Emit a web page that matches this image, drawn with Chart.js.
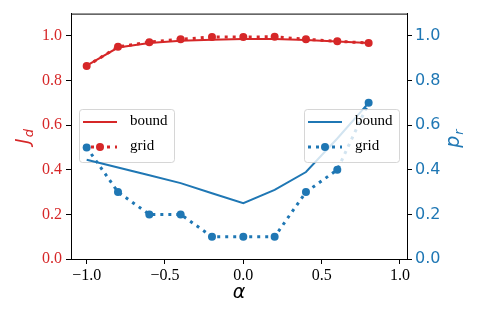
<!DOCTYPE html>
<html>
<head>
<meta charset="utf-8">
<script src="https://cdn.jsdelivr.net/npm/chart.js@4.4.1/dist/chart.umd.min.js"></script>
<style>
  html, body { margin: 0; padding: 0; background: #fff; }
  #wrap { width: 480px; height: 320px; }
</style>
</head>
<body>
<div id="wrap"><canvas id="chart" width="480" height="320"></canvas></div>
<script>
// values
const alpha = [-1.0, -0.8, -0.6, -0.4, -0.2, 0.0, 0.2, 0.4, 0.6, 0.8];
const jdBound = [0.867, 0.948, 0.968, 0.978, 0.983, 0.986, 0.986, 0.982, 0.975, 0.968];
const jdGrid = [0.865, 0.951, 0.972, 0.985, 0.995, 0.995, 0.996, 0.985, 0.976, 0.968];
const prBound = [0.445, 0.41, 0.375, 0.34, 0.295, 0.25, 0.31, 0.39, 0.54, 0.70];
const prGrid = [0.5, 0.3, 0.2, 0.2, 0.1, 0.1, 0.1, 0.3, 0.4, 0.7];

const xTicks = [-1.0, -0.5, 0.0, 0.5, 1.0];
const yTicks = [0.0, 0.2, 0.4, 0.6, 0.8, 1.0];

const RED = '#d62728';
const BLUE = '#1f77b4';
const SERIF = '"Liberation Serif", "Times New Roman", serif';
const SANS = '"DejaVu Sans", sans-serif';

const pts = (ys) => alpha.map((x, i) => ({ x: x, y: ys[i] }));

function lineStyle(color, dotted) {
  return dotted ? {
    borderColor: color, backgroundColor: color, borderWidth: 3,
    borderDash: [3, 5], borderCapStyle: 'butt',
    pointRadius: 4, pointBackgroundColor: color, pointBorderWidth: 0
  } : {
    borderColor: color, backgroundColor: color, borderWidth: 2,
    pointRadius: 0
  };
}

function drawLegend(ctx, x0, color) {
  const y0 = 109, w = 95, h = 53;
  ctx.save();
  ctx.beginPath();
  ctx.roundRect(x0 + 0.5, y0 + 0.5, w, h, 3);
  ctx.fillStyle = 'rgba(255,255,255,0.8)';
  ctx.fill();
  ctx.strokeStyle = 'rgba(204,204,204,0.8)';
  ctx.lineWidth = 1;
  ctx.stroke();

  // bound row
  ctx.strokeStyle = color;
  ctx.lineWidth = 2;
  ctx.beginPath();
  ctx.moveTo(x0 + 4, 122);
  ctx.lineTo(x0 + 38, 122);
  ctx.stroke();

  // grid row
  ctx.lineWidth = 3;
  ctx.setLineDash([3, 5]);
  ctx.beginPath();
  ctx.moveTo(x0 + 4, 147);
  ctx.lineTo(x0 + 38, 147);
  ctx.stroke();
  ctx.setLineDash([]);
  ctx.fillStyle = color;
  ctx.beginPath();
  ctx.arc(x0 + 21, 147, 4, 0, Math.PI * 2);
  ctx.fill();

  ctx.fillStyle = '#000';
  ctx.font = '15px ' + SERIF;
  ctx.textBaseline = 'middle';
  ctx.textAlign = 'left';
  ctx.fillText('bound', x0 + 51, 121);
  ctx.fillText('grid', x0 + 51, 146);
  ctx.restore();
}

// rotated math-style label: main letter + subscript
function drawSubLabel(ctx, cx, cy, main, sub, color) {
  ctx.save();
  ctx.translate(cx, cy);
  ctx.rotate(-Math.PI / 2);
  ctx.fillStyle = color;
  ctx.textBaseline = 'alphabetic';
  ctx.textAlign = 'left';
  ctx.font = 'italic 19px ' + SANS;
  const w1 = ctx.measureText(main).width;
  ctx.font = 'italic 13px ' + SANS;
  const w2 = ctx.measureText(sub).width;
  const start = -(w1 + w2) / 2;
  ctx.font = 'italic 19px ' + SANS;
  ctx.fillText(main, start, 0);
  ctx.font = 'italic 13px ' + SANS;
  ctx.fillText(sub, start + w1 + 1, 3.5);
  ctx.restore();
}

const overlay = {
  id: 'overlay',
  afterDatasetDraw(chart, args) {
    // left legend sits above the red lines but under the blue ones
    if (args.index === 1) drawLegend(chart.ctx, 79, RED);
  },
  afterDatasetsDraw(chart) {
    const ctx = chart.ctx;
    drawLegend(ctx, 304, BLUE);
    const a = chart.chartArea;
    ctx.save();
    ctx.strokeStyle = '#000';
    ctx.lineWidth = 1;
    ctx.beginPath();
    ctx.moveTo(a.left, a.top + 0.5);
    ctx.lineTo(a.right, a.top + 0.5);
    ctx.stroke();
    ctx.restore();
  },
  afterDraw(chart) {
    const ctx = chart.ctx;
    drawSubLabel(ctx, 29, 137, 'J', 'd', RED);
    drawSubLabel(ctx, 459, 139, 'p', 'r', BLUE);
    ctx.save();
    ctx.fillStyle = '#000';
    ctx.font = 'italic 19px ' + SANS;
    ctx.textAlign = 'center';
    ctx.textBaseline = 'alphabetic';
    ctx.fillText('α', 239, 298);
    ctx.restore();
  }
};

const tickGrid = {
  display: true, drawOnChartArea: false, drawTicks: true,
  tickLength: 5, tickColor: '#000', tickWidth: 1
};

new Chart(document.getElementById('chart'), {
  type: 'line',
  data: {
    datasets: [
      Object.assign({ label: 'bound', data: pts(jdBound), yAxisID: 'y', order: 4 }, lineStyle(RED, false)),
      Object.assign({ label: 'grid', data: pts(jdGrid), yAxisID: 'y', order: 3 }, lineStyle(RED, true)),
      Object.assign({ label: 'bound', data: pts(prBound), yAxisID: 'y2', order: 2 }, lineStyle(BLUE, false)),
      Object.assign({ label: 'grid', data: pts(prGrid), yAxisID: 'y2', order: 1 }, lineStyle(BLUE, true))
    ]
  },
  options: {
    responsive: false,
    animation: false,
    layout: { padding: { top: 12, left: 0, right: 0, bottom: 0 } },
    plugins: { legend: { display: false }, tooltip: { enabled: false } },
    elements: { line: { tension: 0 } },
    scales: {
      x: {
        type: 'linear', min: -1.1, max: 1.045,
        grid: tickGrid,
        border: { display: true, color: '#000', width: 1 },
        afterBuildTicks: (s) => { s.ticks = xTicks.map(v => ({ value: v })); },
        afterFit: (s) => { s.height = 61; },
        ticks: {
          color: '#000', padding: 2, maxRotation: 0,
          font: { family: SERIF, size: 16 },
          callback: (v) => v.toFixed(1).replace('-', '\u2212')
        }
      },
      y: {
        position: 'left', min: 0, max: 1.1,
        grid: tickGrid,
        border: { display: true, color: '#000', width: 1 },
        afterBuildTicks: (s) => { s.ticks = yTicks.map(v => ({ value: v })); },
        afterFit: (s) => { s.width = 71; },
        ticks: {
          color: RED, padding: 4,
          font: { family: SERIF, size: 16 },
          callback: (v) => v.toFixed(1)
        }
      },
      y2: {
        position: 'right', min: 0, max: 1.1,
        grid: tickGrid,
        border: { display: true, color: '#000', width: 1 },
        afterBuildTicks: (s) => { s.ticks = yTicks.map(v => ({ value: v })); },
        afterFit: (s) => { s.width = 73; },
        ticks: {
          color: BLUE, padding: 3,
          font: { family: SANS, size: 16 },
          callback: (v) => v.toFixed(1)
        }
      }
    }
  },
  plugins: [overlay]
});
</script>
</body>
</html>
